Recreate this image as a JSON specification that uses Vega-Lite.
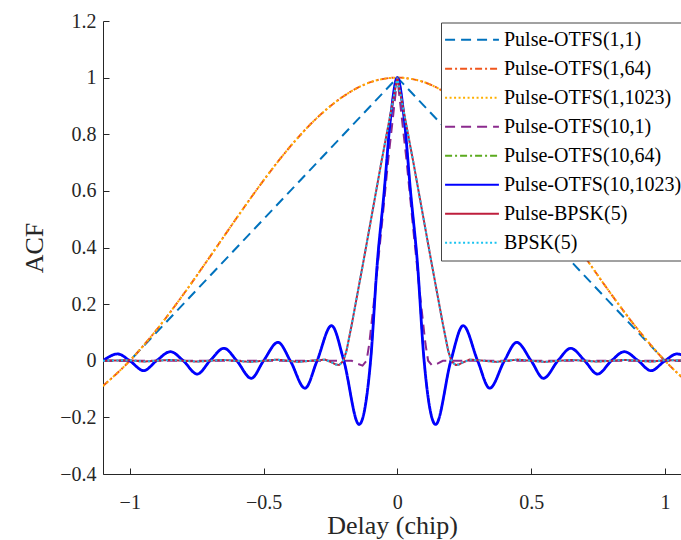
{
  "$schema": "https://vega.github.io/schema/vega-lite/v6.json",
  "width": 578,
  "height": 453,
  "autosize": {"type": "none"},
  "padding": {"left": 103, "top": 21, "right": 0, "bottom": 66},
  "background": "white",
  "config": {
    "font": "Liberation Serif, Times New Roman, serif",
    "view": {"stroke": null},
    "axis": {
      "domainColor": "#262626", "tickColor": "#262626", "labelColor": "#262626", "titleColor": "#262626",
      "labelFont": "Liberation Serif, Times New Roman, serif", "titleFont": "Liberation Serif, Times New Roman, serif",
      "labelFontSize": 20, "titleFontSize": 26, "titleFontWeight": "normal",
      "grid": false, "tickSize": -6, "domainWidth": 1, "tickWidth": 1
    },
    "legend": {"labelFont": "Liberation Serif, Times New Roman, serif", "labelFontSize": 20, "labelLimit": 400}
  },
  "data": {"values": [
    {"s": "Pulse-OTFS(1,1)", "x": -1.1, "y": 0},
    {"s": "Pulse-OTFS(1,1)", "x": -1.0, "y": 0},
    {"s": "Pulse-OTFS(1,1)", "x": 0, "y": 1},
    {"s": "Pulse-OTFS(1,1)", "x": 1.0, "y": 0},
    {"s": "Pulse-OTFS(1,1)", "x": 1.1, "y": 0},

    {"s": "Pulse-OTFS(1,64)", "x": -1.1, "y": -0.089},
    {"s": "Pulse-OTFS(1,64)", "x": -1.0, "y": 0},
    {"s": "Pulse-OTFS(1,64)", "x": -0.9, "y": 0.109},
    {"s": "Pulse-OTFS(1,64)", "x": -0.8, "y": 0.234},
    {"s": "Pulse-OTFS(1,64)", "x": -0.7, "y": 0.368},
    {"s": "Pulse-OTFS(1,64)", "x": -0.6, "y": 0.505},
    {"s": "Pulse-OTFS(1,64)", "x": -0.5, "y": 0.637},
    {"s": "Pulse-OTFS(1,64)", "x": -0.4, "y": 0.757},
    {"s": "Pulse-OTFS(1,64)", "x": -0.3, "y": 0.858},
    {"s": "Pulse-OTFS(1,64)", "x": -0.2, "y": 0.935},
    {"s": "Pulse-OTFS(1,64)", "x": -0.1, "y": 0.984},
    {"s": "Pulse-OTFS(1,64)", "x": 0, "y": 1},
    {"s": "Pulse-OTFS(1,64)", "x": 0.1, "y": 0.984},
    {"s": "Pulse-OTFS(1,64)", "x": 0.2, "y": 0.935},
    {"s": "Pulse-OTFS(1,64)", "x": 0.3, "y": 0.858},
    {"s": "Pulse-OTFS(1,64)", "x": 0.4, "y": 0.757},
    {"s": "Pulse-OTFS(1,64)", "x": 0.5, "y": 0.637},
    {"s": "Pulse-OTFS(1,64)", "x": 0.6, "y": 0.505},
    {"s": "Pulse-OTFS(1,64)", "x": 0.7, "y": 0.368},
    {"s": "Pulse-OTFS(1,64)", "x": 0.8, "y": 0.234},
    {"s": "Pulse-OTFS(1,64)", "x": 0.9, "y": 0.109},
    {"s": "Pulse-OTFS(1,64)", "x": 1.0, "y": 0},
    {"s": "Pulse-OTFS(1,64)", "x": 1.1, "y": -0.089},

    {"s": "Pulse-OTFS(1,1023)", "x": -1.1, "y": -0.089},
    {"s": "Pulse-OTFS(1,1023)", "x": -1.0, "y": 0},
    {"s": "Pulse-OTFS(1,1023)", "x": -0.9, "y": 0.109},
    {"s": "Pulse-OTFS(1,1023)", "x": -0.8, "y": 0.234},
    {"s": "Pulse-OTFS(1,1023)", "x": -0.7, "y": 0.368},
    {"s": "Pulse-OTFS(1,1023)", "x": -0.6, "y": 0.505},
    {"s": "Pulse-OTFS(1,1023)", "x": -0.5, "y": 0.637},
    {"s": "Pulse-OTFS(1,1023)", "x": -0.4, "y": 0.757},
    {"s": "Pulse-OTFS(1,1023)", "x": -0.3, "y": 0.858},
    {"s": "Pulse-OTFS(1,1023)", "x": -0.2, "y": 0.935},
    {"s": "Pulse-OTFS(1,1023)", "x": -0.1, "y": 0.984},
    {"s": "Pulse-OTFS(1,1023)", "x": 0, "y": 1},
    {"s": "Pulse-OTFS(1,1023)", "x": 0.1, "y": 0.984},
    {"s": "Pulse-OTFS(1,1023)", "x": 0.2, "y": 0.935},
    {"s": "Pulse-OTFS(1,1023)", "x": 0.3, "y": 0.858},
    {"s": "Pulse-OTFS(1,1023)", "x": 0.4, "y": 0.757},
    {"s": "Pulse-OTFS(1,1023)", "x": 0.5, "y": 0.637},
    {"s": "Pulse-OTFS(1,1023)", "x": 0.6, "y": 0.505},
    {"s": "Pulse-OTFS(1,1023)", "x": 0.7, "y": 0.368},
    {"s": "Pulse-OTFS(1,1023)", "x": 0.8, "y": 0.234},
    {"s": "Pulse-OTFS(1,1023)", "x": 0.9, "y": 0.109},
    {"s": "Pulse-OTFS(1,1023)", "x": 1.0, "y": 0},
    {"s": "Pulse-OTFS(1,1023)", "x": 1.1, "y": -0.089},

    {"s": "Pulse-OTFS(10,1)", "x": -1.1, "y": 0},
    {"s": "Pulse-OTFS(10,1)", "x": -0.2, "y": 0},
    {"s": "Pulse-OTFS(10,1)", "x": -0.17, "y": 0},
    {"s": "Pulse-OTFS(10,1)", "x": -0.15, "y": -0.01},
    {"s": "Pulse-OTFS(10,1)", "x": -0.13, "y": -0.017},
    {"s": "Pulse-OTFS(10,1)", "x": -0.115, "y": 0},
    {"s": "Pulse-OTFS(10,1)", "x": -0.105, "y": 0.06},
    {"s": "Pulse-OTFS(10,1)", "x": -0.085, "y": 0.23},
    {"s": "Pulse-OTFS(10,1)", "x": -0.061, "y": 0.45},
    {"s": "Pulse-OTFS(10,1)", "x": -0.034, "y": 0.71},
    {"s": "Pulse-OTFS(10,1)", "x": 0, "y": 1},
    {"s": "Pulse-OTFS(10,1)", "x": 0.034, "y": 0.71},
    {"s": "Pulse-OTFS(10,1)", "x": 0.061, "y": 0.45},
    {"s": "Pulse-OTFS(10,1)", "x": 0.085, "y": 0.23},
    {"s": "Pulse-OTFS(10,1)", "x": 0.105, "y": 0.06},
    {"s": "Pulse-OTFS(10,1)", "x": 0.115, "y": 0},
    {"s": "Pulse-OTFS(10,1)", "x": 0.13, "y": -0.017},
    {"s": "Pulse-OTFS(10,1)", "x": 0.15, "y": -0.01},
    {"s": "Pulse-OTFS(10,1)", "x": 0.17, "y": 0},
    {"s": "Pulse-OTFS(10,1)", "x": 0.2, "y": 0},
    {"s": "Pulse-OTFS(10,1)", "x": 1.1, "y": 0},

    {"s": "Pulse-OTFS(10,64)", "x": -1.1, "y": 0},
    {"s": "Pulse-OTFS(10,64)", "x": -1.045, "y": 0.024},
    {"s": "Pulse-OTFS(10,64)", "x": -1.0, "y": 0},
    {"s": "Pulse-OTFS(10,64)", "x": -0.948, "y": -0.035},
    {"s": "Pulse-OTFS(10,64)", "x": -0.9, "y": 0},
    {"s": "Pulse-OTFS(10,64)", "x": -0.848, "y": 0.032},
    {"s": "Pulse-OTFS(10,64)", "x": -0.8, "y": 0},
    {"s": "Pulse-OTFS(10,64)", "x": -0.748, "y": -0.047},
    {"s": "Pulse-OTFS(10,64)", "x": -0.7, "y": 0},
    {"s": "Pulse-OTFS(10,64)", "x": -0.648, "y": 0.044},
    {"s": "Pulse-OTFS(10,64)", "x": -0.6, "y": 0},
    {"s": "Pulse-OTFS(10,64)", "x": -0.546, "y": -0.062},
    {"s": "Pulse-OTFS(10,64)", "x": -0.5, "y": 0},
    {"s": "Pulse-OTFS(10,64)", "x": -0.446, "y": 0.065},
    {"s": "Pulse-OTFS(10,64)", "x": -0.4, "y": 0},
    {"s": "Pulse-OTFS(10,64)", "x": -0.345, "y": -0.097},
    {"s": "Pulse-OTFS(10,64)", "x": -0.3, "y": 0},
    {"s": "Pulse-OTFS(10,64)", "x": -0.246, "y": 0.124},
    {"s": "Pulse-OTFS(10,64)", "x": -0.2, "y": 0},
    {"s": "Pulse-OTFS(10,64)", "x": -0.143, "y": -0.225},
    {"s": "Pulse-OTFS(10,64)", "x": -0.1, "y": 0},
    {"s": "Pulse-OTFS(10,64)", "x": -0.075, "y": 0.345},
    {"s": "Pulse-OTFS(10,64)", "x": -0.05, "y": 0.59},
    {"s": "Pulse-OTFS(10,64)", "x": -0.025, "y": 0.86},
    {"s": "Pulse-OTFS(10,64)", "x": 0, "y": 1},
    {"s": "Pulse-OTFS(10,64)", "x": 0.025, "y": 0.86},
    {"s": "Pulse-OTFS(10,64)", "x": 0.05, "y": 0.59},
    {"s": "Pulse-OTFS(10,64)", "x": 0.075, "y": 0.345},
    {"s": "Pulse-OTFS(10,64)", "x": 0.1, "y": 0},
    {"s": "Pulse-OTFS(10,64)", "x": 0.143, "y": -0.225},
    {"s": "Pulse-OTFS(10,64)", "x": 0.2, "y": 0},
    {"s": "Pulse-OTFS(10,64)", "x": 0.246, "y": 0.124},
    {"s": "Pulse-OTFS(10,64)", "x": 0.3, "y": 0},
    {"s": "Pulse-OTFS(10,64)", "x": 0.345, "y": -0.097},
    {"s": "Pulse-OTFS(10,64)", "x": 0.4, "y": 0},
    {"s": "Pulse-OTFS(10,64)", "x": 0.446, "y": 0.065},
    {"s": "Pulse-OTFS(10,64)", "x": 0.5, "y": 0},
    {"s": "Pulse-OTFS(10,64)", "x": 0.546, "y": -0.062},
    {"s": "Pulse-OTFS(10,64)", "x": 0.6, "y": 0},
    {"s": "Pulse-OTFS(10,64)", "x": 0.648, "y": 0.044},
    {"s": "Pulse-OTFS(10,64)", "x": 0.7, "y": 0},
    {"s": "Pulse-OTFS(10,64)", "x": 0.748, "y": -0.047},
    {"s": "Pulse-OTFS(10,64)", "x": 0.8, "y": 0},
    {"s": "Pulse-OTFS(10,64)", "x": 0.848, "y": 0.032},
    {"s": "Pulse-OTFS(10,64)", "x": 0.9, "y": 0},
    {"s": "Pulse-OTFS(10,64)", "x": 0.948, "y": -0.035},
    {"s": "Pulse-OTFS(10,64)", "x": 1.0, "y": 0},
    {"s": "Pulse-OTFS(10,64)", "x": 1.045, "y": 0.024},
    {"s": "Pulse-OTFS(10,64)", "x": 1.1, "y": 0},

    {"s": "Pulse-OTFS(10,1023)", "x": -1.1, "y": 0},
    {"s": "Pulse-OTFS(10,1023)", "x": -1.045, "y": 0.024},
    {"s": "Pulse-OTFS(10,1023)", "x": -1.0, "y": 0},
    {"s": "Pulse-OTFS(10,1023)", "x": -0.948, "y": -0.035},
    {"s": "Pulse-OTFS(10,1023)", "x": -0.9, "y": 0},
    {"s": "Pulse-OTFS(10,1023)", "x": -0.848, "y": 0.032},
    {"s": "Pulse-OTFS(10,1023)", "x": -0.8, "y": 0},
    {"s": "Pulse-OTFS(10,1023)", "x": -0.748, "y": -0.047},
    {"s": "Pulse-OTFS(10,1023)", "x": -0.7, "y": 0},
    {"s": "Pulse-OTFS(10,1023)", "x": -0.648, "y": 0.044},
    {"s": "Pulse-OTFS(10,1023)", "x": -0.6, "y": 0},
    {"s": "Pulse-OTFS(10,1023)", "x": -0.546, "y": -0.062},
    {"s": "Pulse-OTFS(10,1023)", "x": -0.5, "y": 0},
    {"s": "Pulse-OTFS(10,1023)", "x": -0.446, "y": 0.065},
    {"s": "Pulse-OTFS(10,1023)", "x": -0.4, "y": 0},
    {"s": "Pulse-OTFS(10,1023)", "x": -0.345, "y": -0.097},
    {"s": "Pulse-OTFS(10,1023)", "x": -0.3, "y": 0},
    {"s": "Pulse-OTFS(10,1023)", "x": -0.246, "y": 0.124},
    {"s": "Pulse-OTFS(10,1023)", "x": -0.2, "y": 0},
    {"s": "Pulse-OTFS(10,1023)", "x": -0.143, "y": -0.225},
    {"s": "Pulse-OTFS(10,1023)", "x": -0.1, "y": 0},
    {"s": "Pulse-OTFS(10,1023)", "x": -0.075, "y": 0.345},
    {"s": "Pulse-OTFS(10,1023)", "x": -0.05, "y": 0.59},
    {"s": "Pulse-OTFS(10,1023)", "x": -0.025, "y": 0.86},
    {"s": "Pulse-OTFS(10,1023)", "x": 0, "y": 1},
    {"s": "Pulse-OTFS(10,1023)", "x": 0.025, "y": 0.86},
    {"s": "Pulse-OTFS(10,1023)", "x": 0.05, "y": 0.59},
    {"s": "Pulse-OTFS(10,1023)", "x": 0.075, "y": 0.345},
    {"s": "Pulse-OTFS(10,1023)", "x": 0.1, "y": 0},
    {"s": "Pulse-OTFS(10,1023)", "x": 0.143, "y": -0.225},
    {"s": "Pulse-OTFS(10,1023)", "x": 0.2, "y": 0},
    {"s": "Pulse-OTFS(10,1023)", "x": 0.246, "y": 0.124},
    {"s": "Pulse-OTFS(10,1023)", "x": 0.3, "y": 0},
    {"s": "Pulse-OTFS(10,1023)", "x": 0.345, "y": -0.097},
    {"s": "Pulse-OTFS(10,1023)", "x": 0.4, "y": 0},
    {"s": "Pulse-OTFS(10,1023)", "x": 0.446, "y": 0.065},
    {"s": "Pulse-OTFS(10,1023)", "x": 0.5, "y": 0},
    {"s": "Pulse-OTFS(10,1023)", "x": 0.546, "y": -0.062},
    {"s": "Pulse-OTFS(10,1023)", "x": 0.6, "y": 0},
    {"s": "Pulse-OTFS(10,1023)", "x": 0.648, "y": 0.044},
    {"s": "Pulse-OTFS(10,1023)", "x": 0.7, "y": 0},
    {"s": "Pulse-OTFS(10,1023)", "x": 0.748, "y": -0.047},
    {"s": "Pulse-OTFS(10,1023)", "x": 0.8, "y": 0},
    {"s": "Pulse-OTFS(10,1023)", "x": 0.848, "y": 0.032},
    {"s": "Pulse-OTFS(10,1023)", "x": 0.9, "y": 0},
    {"s": "Pulse-OTFS(10,1023)", "x": 0.948, "y": -0.035},
    {"s": "Pulse-OTFS(10,1023)", "x": 1.0, "y": 0},
    {"s": "Pulse-OTFS(10,1023)", "x": 1.045, "y": 0.024},
    {"s": "Pulse-OTFS(10,1023)", "x": 1.1, "y": 0},

    {"s": "Pulse-BPSK(5)", "x": -1.1, "y": 0},
    {"s": "Pulse-BPSK(5)", "x": -1.0, "y": 0.002},
    {"s": "Pulse-BPSK(5)", "x": -0.95, "y": -0.003},
    {"s": "Pulse-BPSK(5)", "x": -0.85, "y": 0.003},
    {"s": "Pulse-BPSK(5)", "x": -0.75, "y": -0.003},
    {"s": "Pulse-BPSK(5)", "x": -0.65, "y": 0.003},
    {"s": "Pulse-BPSK(5)", "x": -0.55, "y": -0.004},
    {"s": "Pulse-BPSK(5)", "x": -0.45, "y": 0.004},
    {"s": "Pulse-BPSK(5)", "x": -0.37, "y": -0.004},
    {"s": "Pulse-BPSK(5)", "x": -0.3, "y": 0.002},
    {"s": "Pulse-BPSK(5)", "x": -0.27, "y": 0.004},
    {"s": "Pulse-BPSK(5)", "x": -0.245, "y": -0.006},
    {"s": "Pulse-BPSK(5)", "x": -0.23, "y": -0.013},
    {"s": "Pulse-BPSK(5)", "x": -0.218, "y": -0.015},
    {"s": "Pulse-BPSK(5)", "x": -0.207, "y": -0.006},
    {"s": "Pulse-BPSK(5)", "x": -0.2, "y": 0.005},
    {"s": "Pulse-BPSK(5)", "x": -0.19, "y": 0.035},
    {"s": "Pulse-BPSK(5)", "x": -0.17, "y": 0.13},
    {"s": "Pulse-BPSK(5)", "x": -0.125, "y": 0.36},
    {"s": "Pulse-BPSK(5)", "x": -0.06, "y": 0.7},
    {"s": "Pulse-BPSK(5)", "x": 0, "y": 1},
    {"s": "Pulse-BPSK(5)", "x": 0.06, "y": 0.7},
    {"s": "Pulse-BPSK(5)", "x": 0.125, "y": 0.36},
    {"s": "Pulse-BPSK(5)", "x": 0.17, "y": 0.13},
    {"s": "Pulse-BPSK(5)", "x": 0.19, "y": 0.035},
    {"s": "Pulse-BPSK(5)", "x": 0.2, "y": 0.005},
    {"s": "Pulse-BPSK(5)", "x": 0.207, "y": -0.006},
    {"s": "Pulse-BPSK(5)", "x": 0.218, "y": -0.015},
    {"s": "Pulse-BPSK(5)", "x": 0.23, "y": -0.013},
    {"s": "Pulse-BPSK(5)", "x": 0.245, "y": -0.006},
    {"s": "Pulse-BPSK(5)", "x": 0.27, "y": 0.004},
    {"s": "Pulse-BPSK(5)", "x": 0.3, "y": 0.002},
    {"s": "Pulse-BPSK(5)", "x": 0.37, "y": -0.004},
    {"s": "Pulse-BPSK(5)", "x": 0.45, "y": 0.004},
    {"s": "Pulse-BPSK(5)", "x": 0.55, "y": -0.004},
    {"s": "Pulse-BPSK(5)", "x": 0.65, "y": 0.003},
    {"s": "Pulse-BPSK(5)", "x": 0.75, "y": -0.003},
    {"s": "Pulse-BPSK(5)", "x": 0.85, "y": 0.003},
    {"s": "Pulse-BPSK(5)", "x": 0.95, "y": -0.003},
    {"s": "Pulse-BPSK(5)", "x": 1.0, "y": 0.002},
    {"s": "Pulse-BPSK(5)", "x": 1.1, "y": 0},

    {"s": "BPSK(5)", "x": -1.1, "y": 0},
    {"s": "BPSK(5)", "x": -1.0, "y": 0.002},
    {"s": "BPSK(5)", "x": -0.95, "y": -0.003},
    {"s": "BPSK(5)", "x": -0.85, "y": 0.003},
    {"s": "BPSK(5)", "x": -0.75, "y": -0.003},
    {"s": "BPSK(5)", "x": -0.65, "y": 0.003},
    {"s": "BPSK(5)", "x": -0.55, "y": -0.004},
    {"s": "BPSK(5)", "x": -0.45, "y": 0.004},
    {"s": "BPSK(5)", "x": -0.37, "y": -0.004},
    {"s": "BPSK(5)", "x": -0.3, "y": 0.002},
    {"s": "BPSK(5)", "x": -0.27, "y": 0.004},
    {"s": "BPSK(5)", "x": -0.245, "y": -0.006},
    {"s": "BPSK(5)", "x": -0.23, "y": -0.013},
    {"s": "BPSK(5)", "x": -0.218, "y": -0.015},
    {"s": "BPSK(5)", "x": -0.207, "y": -0.006},
    {"s": "BPSK(5)", "x": -0.2, "y": 0.005},
    {"s": "BPSK(5)", "x": -0.19, "y": 0.035},
    {"s": "BPSK(5)", "x": -0.17, "y": 0.13},
    {"s": "BPSK(5)", "x": -0.125, "y": 0.36},
    {"s": "BPSK(5)", "x": -0.06, "y": 0.7},
    {"s": "BPSK(5)", "x": 0, "y": 1},
    {"s": "BPSK(5)", "x": 0.06, "y": 0.7},
    {"s": "BPSK(5)", "x": 0.125, "y": 0.36},
    {"s": "BPSK(5)", "x": 0.17, "y": 0.13},
    {"s": "BPSK(5)", "x": 0.19, "y": 0.035},
    {"s": "BPSK(5)", "x": 0.2, "y": 0.005},
    {"s": "BPSK(5)", "x": 0.207, "y": -0.006},
    {"s": "BPSK(5)", "x": 0.218, "y": -0.015},
    {"s": "BPSK(5)", "x": 0.23, "y": -0.013},
    {"s": "BPSK(5)", "x": 0.245, "y": -0.006},
    {"s": "BPSK(5)", "x": 0.27, "y": 0.004},
    {"s": "BPSK(5)", "x": 0.3, "y": 0.002},
    {"s": "BPSK(5)", "x": 0.37, "y": -0.004},
    {"s": "BPSK(5)", "x": 0.45, "y": 0.004},
    {"s": "BPSK(5)", "x": 0.55, "y": -0.004},
    {"s": "BPSK(5)", "x": 0.65, "y": 0.003},
    {"s": "BPSK(5)", "x": 0.75, "y": -0.003},
    {"s": "BPSK(5)", "x": 0.85, "y": 0.003},
    {"s": "BPSK(5)", "x": 0.95, "y": -0.003},
    {"s": "BPSK(5)", "x": 1.0, "y": 0.002},
    {"s": "BPSK(5)", "x": 1.1, "y": 0}
  ]},
  "encoding": {
    "x": {"field": "x", "type": "quantitative",
      "scale": {"domain": [-1.1, 1.06], "nice": false, "zero": false},
      "axis": {"values": [-1, -0.5, 0, 0.5, 1], "format": "~g", "title": "Delay (chip)", "labelPadding": 24, "titlePadding": 0}},
    "y": {"field": "y", "type": "quantitative",
      "scale": {"domain": [-0.4, 1.2], "nice": false, "zero": false},
      "axis": {"values": [-0.4, -0.2, 0, 0.2, 0.4, 0.6, 0.8, 1, 1.2], "format": "~g", "title": "ACF", "labelPadding": 13, "titlePadding": 12}},
    "color": {"field": "s", "type": "nominal",
      "scale": {"domain": ["Pulse-OTFS(1,1)", "Pulse-OTFS(1,64)", "Pulse-OTFS(1,1023)", "Pulse-OTFS(10,1)", "Pulse-OTFS(10,64)", "Pulse-OTFS(10,1023)", "Pulse-BPSK(5)", "BPSK(5)"],
        "range": ["#0072BD", "#F0561D", "#FFB000", "#8B2A8D", "#5BAA1E", "#0000FF", "#BE1E3C", "#19C3F0"]},
      "legend": {"orient": "none", "legendX": 338, "legendY": 1.5, "title": null, "symbolType": "stroke", "symbolSize": 2900, "symbolStrokeWidth": 2, "labelFont": "Liberation Serif, Times New Roman, serif", "labelFontSize": 20, "labelLimit": 400, "labelColor": "black", "labelOffset": 4, "fillColor": "white", "strokeColor": "#444444", "padding": 3, "rowPadding": 0, "clipHeight": 28.5}},
    "strokeDash": {"field": "s", "type": "nominal",
      "scale": {"domain": ["Pulse-OTFS(1,1)", "Pulse-OTFS(1,64)", "Pulse-OTFS(1,1023)", "Pulse-OTFS(10,1)", "Pulse-OTFS(10,64)", "Pulse-OTFS(10,1023)", "Pulse-BPSK(5)", "BPSK(5)"],
        "range": [[10, 6], [7, 3, 2, 3], [2, 2.5], [10, 6], [7, 3, 2, 3], [1, 0], [1, 0], [2, 2.5]]},
      "legend": {"orient": "none", "legendX": 338, "legendY": 1.5, "title": null, "symbolType": "stroke", "symbolSize": 2900, "symbolStrokeWidth": 2, "labelFont": "Liberation Serif, Times New Roman, serif", "labelFontSize": 20, "labelLimit": 400, "labelColor": "black", "labelOffset": 4, "fillColor": "white", "strokeColor": "#444444", "padding": 3, "rowPadding": 0, "clipHeight": 28.5}}
  },
  "layer": [
    {"transform": [{"filter": {"field": "s", "oneOf": ["Pulse-OTFS(1,1)"]}}],
     "mark": {"type": "line", "interpolate": "linear", "clip": true, "strokeWidth": 2}},
    {"transform": [{"filter": {"field": "s", "oneOf": ["Pulse-OTFS(1,64)", "Pulse-OTFS(1,1023)"]}}],
     "mark": {"type": "line", "interpolate": "monotone", "clip": true, "strokeWidth": 2}},
    {"transform": [{"filter": {"field": "s", "oneOf": ["Pulse-OTFS(10,1)"]}}],
     "mark": {"type": "line", "interpolate": "linear", "clip": true, "strokeWidth": 2}},
    {"transform": [{"filter": {"field": "s", "oneOf": ["Pulse-OTFS(10,64)"]}}],
     "mark": {"type": "line", "interpolate": "monotone", "clip": true, "strokeWidth": 2}},
    {"transform": [{"filter": {"field": "s", "oneOf": ["Pulse-OTFS(10,1023)"]}}],
     "mark": {"type": "line", "interpolate": "monotone", "clip": true, "strokeWidth": 2.8}},
    {"transform": [{"filter": {"field": "s", "oneOf": ["Pulse-BPSK(5)", "BPSK(5)"]}}],
     "mark": {"type": "line", "interpolate": "linear", "clip": true, "strokeWidth": 2}}
  ]
}
